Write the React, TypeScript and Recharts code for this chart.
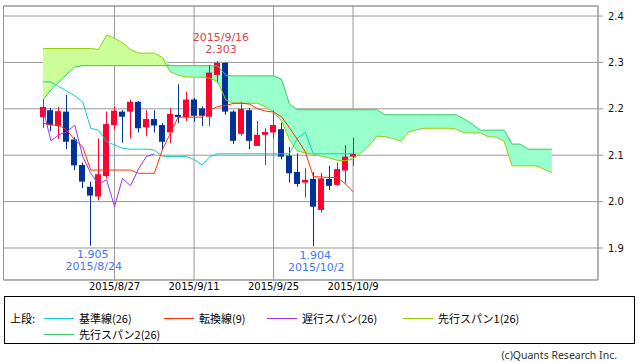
import React from "react"
import {
  ComposedChart,
  Area,
  Line,
  Bar,
  XAxis,
  YAxis,
  CartesianGrid,
  ReferenceLine,
  ReferenceDot,
} from "recharts"

// trading days shown as candles
const dates = [
  "2015/8/14", "2015/8/17", "2015/8/18", "2015/8/19", "2015/8/20", "2015/8/21", "2015/8/24", "2015/8/25",
  "2015/8/26", "2015/8/27", "2015/8/28", "2015/8/31", "2015/9/1", "2015/9/2", "2015/9/3", "2015/9/4",
  "2015/9/8", "2015/9/9", "2015/9/10", "2015/9/11", "2015/9/14", "2015/9/15", "2015/9/16", "2015/9/17",
  "2015/9/18", "2015/9/21", "2015/9/22", "2015/9/23", "2015/9/24", "2015/9/25", "2015/9/28", "2015/9/29",
  "2015/9/30", "2015/10/1", "2015/10/2", "2015/10/5", "2015/10/6", "2015/10/7", "2015/10/8", "2015/10/9",
]

const open = [
  2.182, 2.197, 2.163, 2.194, 2.134, 2.079, 2.032, 2.011, 2.055, 2.165,
  2.194, 2.194, 2.215, 2.16, 2.178, 2.165, 2.149, 2.187, 2.182, 2.22,
  2.201, 2.183, 2.273, 2.299, 2.194, 2.146, 2.197, 2.12, 2.144, 2.149,
  2.156, 2.099, 2.064, 2.041, 2.049, 1.982, 2.049, 2.036, 2.067, 2.097,
]
const high = [
  2.221, 2.202, 2.204, 2.23, 2.139, 2.084, 2.043, 2.136, 2.194, 2.205,
  2.197, 2.22, 2.217, 2.197, 2.197, 2.169, 2.201, 2.253, 2.237, 2.223,
  2.205, 2.294, 2.303, 2.3, 2.197, 2.215, 2.202, 2.174, 2.158, 2.197,
  2.17, 2.118, 2.104, 2.072, 2.064, 2.062, 2.077, 2.084, 2.122, 2.138,
]
const low = [
  2.159, 2.152, 2.135, 2.113, 2.068, 2.029, 1.905, 2.003, 2.05, 2.156,
  2.127, 2.136, 2.149, 2.141, 2.149, 2.111, 2.126, 2.169, 2.174, 2.172,
  2.163, 2.163, 2.255, 2.187, 2.124, 2.142, 2.113, 2.12, 2.079, 2.136,
  2.091, 2.041, 2.032, 2.009, 1.904, 1.976, 2.025, 2.034, 2.039, 2.077,
]
const close = [
  2.204, 2.165, 2.195, 2.129, 2.078, 2.043, 2.013, 2.059, 2.167, 2.196,
  2.183, 2.215, 2.158, 2.178, 2.164, 2.129, 2.189, 2.182, 2.22, 2.185,
  2.185, 2.278, 2.299, 2.194, 2.131, 2.2, 2.131, 2.144, 2.15, 2.165,
  2.097, 2.061, 2.038, 2.047, 1.989, 2.05, 2.034, 2.07, 2.097, 2.103,
]

// 基準線(26)
const kijun = [
  2.258, 2.258, 2.248, 2.238, 2.228, 2.215, 2.158, 2.154, 2.129, 2.122,
  2.115, 2.113, 2.113, 2.113, 2.111, 2.098, 2.097, 2.097, 2.097, 2.091,
  2.079, 2.097, 2.103, 2.103, 2.103, 2.103, 2.103, 2.103, 2.103, 2.103,
  2.103, 2.103, 2.137, 2.149, 2.103, 2.103, 2.103, 2.103, 2.103, 2.103,
]
// 転換線(9)
const tenkan = [
  2.169, 2.165, 2.165, 2.154, 2.133, 2.118, 2.068, 2.068, 2.068, 2.068,
  2.068, 2.068, 2.061, 2.061, 2.061, 2.111, 2.147, 2.182, 2.182, 2.182,
  2.182, 2.197, 2.205, 2.207, 2.212, 2.212, 2.21, 2.2, 2.195, 2.193,
  2.183, 2.159, 2.134, 2.107, 2.054, 2.053, 2.052, 2.052, 2.039, 2.021,
]
// 先行スパン1 / 2 (already shifted forward)
const span1 = [
  2.33, 2.33, 2.33, 2.33, 2.33, 2.33, 2.33, 2.328, 2.359, 2.352,
  2.342, 2.328, 2.32, 2.32, 2.32, 2.311, 2.28, 2.272, 2.269, 2.268,
  2.268, 2.266, 2.258, 2.219, 2.212, 2.212, 2.212, 2.212, 2.204, 2.193,
  2.174, 2.133, 2.109, 2.105, 2.102, 2.098, 2.094, 2.089, 2.088, 2.092,
  2.105, 2.12, 2.141, 2.14, 2.136, 2.13, 2.15, 2.155, 2.158, 2.158,
  2.158, 2.158, 2.156, 2.148, 2.148, 2.148, 2.14, 2.139, 2.13, 2.077,
  2.077, 2.077, 2.077, 2.07, 2.062,
]
const span2 = [
  2.219, 2.241, 2.258, 2.275, 2.29, 2.293, 2.293, 2.293, 2.293, 2.293,
  2.293, 2.293, 2.293, 2.293, 2.293, 2.293, 2.293, 2.293, 2.293, 2.293,
  2.293, 2.293, 2.292, 2.272, 2.271, 2.271, 2.271, 2.271, 2.271, 2.271,
  2.264, 2.21, 2.198, 2.198, 2.198, 2.198, 2.198, 2.198, 2.198, 2.198,
  2.198, 2.198, 2.198, 2.187, 2.187, 2.187, 2.187, 2.187, 2.187, 2.187,
  2.187, 2.187, 2.187, 2.178, 2.167, 2.154, 2.154, 2.154, 2.154, 2.124,
  2.124, 2.113, 2.113, 2.113, 2.113,
]

const priceTicks = [1.9, 2.0, 2.1, 2.2, 2.3, 2.4]
const dateTicks = [9, 19, 29, 39]

const LAG = 25
const X_DOMAIN: [number, number] = [-4.97, 69.81]
const Y_DOMAIN: [number, number] = [1.831, 2.4216]

const data = span1.map((s1, i) => {
  const s2 = span2[i]
  const top = Math.max(s1, s2)
  const row: any = { i, span1: s1, span2: s2, cloudUp: [s2, top], cloudDown: [s1, top] }
  if (i < close.length) {
    row.open = open[i]
    row.high = high[i]
    row.low = low[i]
    row.close = close[i]
    row.candle = [low[i], high[i]]
    row.kijun = kijun[i]
    row.tenkan = tenkan[i]
  }
  if (i + LAG < close.length) row.chikou = close[i + LAG]
  return row
})

function Candle(props: any) {
  const { x, y, width, height, payload } = props
  if (!payload || payload.open == null || !height) return null
  const { open: o, close: c, high: h, low: l } = payload
  const k = height / (h - l)
  const cx = Math.floor(x + width / 2)
  const top = y + (h - Math.max(o, c)) * k
  const bottom = y + (h - Math.min(o, c)) * k
  const color = c >= o ? "#ff0033" : "#003399"
  return (
    <g>
      <line x1={cx + 0.5} x2={cx + 0.5} y1={y} y2={y + height} stroke={color} strokeWidth={1} />
      <rect x={cx - 3} y={top} width={6} height={Math.max(1, bottom - top)} fill={color} />
    </g>
  )
}

const HighLabel = (price: number, date: string) => (props: any) => {
  const { x, y } = props.viewBox
  return (
    <g fontSize={11} fill="#d64545" textAnchor="middle">
      <text x={x + 3} y={y - 20}>{date}</text>
      <text x={x + 3} y={y - 8}>{price.toFixed(3)}</text>
    </g>
  )
}

const LowLabel = (price: number, date: string) => (props: any) => {
  const { x, y } = props.viewBox
  return (
    <g fontSize={11} fill="#4477ee" textAnchor="middle">
      <text x={x + 2} y={y + 12.5}>{price.toFixed(3)}</text>
      <text x={x + 3} y={y + 24.5}>{date}</text>
    </g>
  )
}

const legendRow1 = [
  { name: "基準線(26)", color: "#11cccc", x: 44 },
  { name: "転換線(9)", color: "#ff3300", x: 164 },
  { name: "遅行スパン(26)", color: "#9933ff", x: 267 },
  { name: "先行スパン1(26)", color: "#99cc00", x: 403 },
]
const legendRow2 = [{ name: "先行スパン2(26)", color: "#33cc66", x: 44 }]

function LegendItem({ name, color, x, y }: { name: string; color: string; x: number; y: number }) {
  return (
    <>
      <div style={{ position: "absolute", left: x, top: y, width: 30, height: 1, background: color }} />
      <div style={{ position: "absolute", left: x + 35, top: y - 8, lineHeight: "16px", whiteSpace: "nowrap" }}>{name}</div>
    </>
  )
}

export default function App() {
  const hiIdx = high.indexOf(Math.max(...high))
  const lowA = 6
  const lowB = 34
  return (
    <div
      style={{
        position: "absolute",
        left: 0,
        top: 0,
        width: 638,
        height: 362,
        background: "#fff",
        fontFamily: "'DejaVu Sans', 'Noto Sans CJK JP', sans-serif",
      }}
    >
      <ComposedChart width={638} height={296} data={data} margin={{ top: 6, right: 0, bottom: 0, left: 3.5 }}>
        <XAxis
          dataKey="i"
          type="number"
          domain={X_DOMAIN}
          allowDataOverflow
          ticks={dateTicks}
          interval={0}
          tickFormatter={(v: number) => dates[v]}
          height={16}
          tickLine={false}
          tickSize={0}
          tickMargin={3}
          axisLine={{ stroke: "#999" }}
          tick={{ fontSize: 10, fill: "#000" }}
        />
        <YAxis
          orientation="right"
          type="number"
          domain={Y_DOMAIN}
          allowDataOverflow
          ticks={priceTicks}
          interval={0}
          tickFormatter={(v: number) => v.toFixed(1)}
          width={40}
          tickSize={5}
          tickMargin={5}
          axisLine={{ stroke: "#999" }}
          tickLine={{ stroke: "#999" }}
          tick={{ fontSize: 10, fill: "#111" }}
        />
        <Area dataKey="cloudUp" stroke="none" fill="#ccff99" fillOpacity={1} isAnimationActive={false} />
        <Area dataKey="cloudDown" stroke="none" fill="#99ffcc" fillOpacity={1} isAnimationActive={false} />
        <CartesianGrid stroke="#999" />
        <ReferenceLine y={Y_DOMAIN[1]} stroke="#999" />
        <ReferenceLine x={X_DOMAIN[0]} stroke="#999" />
        <Line dataKey="span1" stroke="#99cc00" strokeWidth={1} dot={false} isAnimationActive={false} />
        <Line dataKey="span2" stroke="#33cc66" strokeWidth={1} dot={false} isAnimationActive={false} />
        <Line dataKey="kijun" stroke="#11cccc" strokeWidth={1} dot={false} isAnimationActive={false} />
        <Line dataKey="tenkan" stroke="#ff3300" strokeWidth={1} dot={false} isAnimationActive={false} />
        <Line dataKey="chikou" stroke="#9933ff" strokeWidth={1} dot={false} isAnimationActive={false} />
        <Bar dataKey="candle" barSize={6} shape={<Candle />} isAnimationActive={false} />
        <ReferenceDot x={hiIdx} y={high[hiIdx]} r={0} label={HighLabel(high[hiIdx], dates[hiIdx])} />
        <ReferenceDot x={lowA} y={low[lowA]} r={0} label={LowLabel(low[lowA], dates[lowA])} />
        <ReferenceDot x={lowB} y={low[lowB]} r={0} label={LowLabel(low[lowB], dates[lowB])} />
      </ComposedChart>
      <div
        style={{
          position: "absolute",
          left: 4,
          top: 296,
          width: 631,
          height: 48,
          boxSizing: "border-box",
          border: "1px solid #000",
        }}
      />
      <div style={{ position: "absolute", left: 0, top: 0, fontFamily: "'Noto Sans CJK JP', sans-serif", fontSize: 11, color: "#000" }}>
        <div style={{ position: "absolute", left: 10, top: 310, lineHeight: "16px", whiteSpace: "nowrap" }}>上段:</div>
        {legendRow1.map((it) => (
          <LegendItem key={it.name} {...it} y={318} />
        ))}
        {legendRow2.map((it) => (
          <LegendItem key={it.name} {...it} y={334} />
        ))}
      </div>
      <div
        style={{
          position: "absolute",
          right: 21,
          top: 348,
          fontFamily: "'Noto Sans', sans-serif",
          fontSize: 10.5,
          color: "#333",
          whiteSpace: "nowrap",
        }}
      >
        (c)Quants Research Inc.
      </div>
    </div>
  )
}
